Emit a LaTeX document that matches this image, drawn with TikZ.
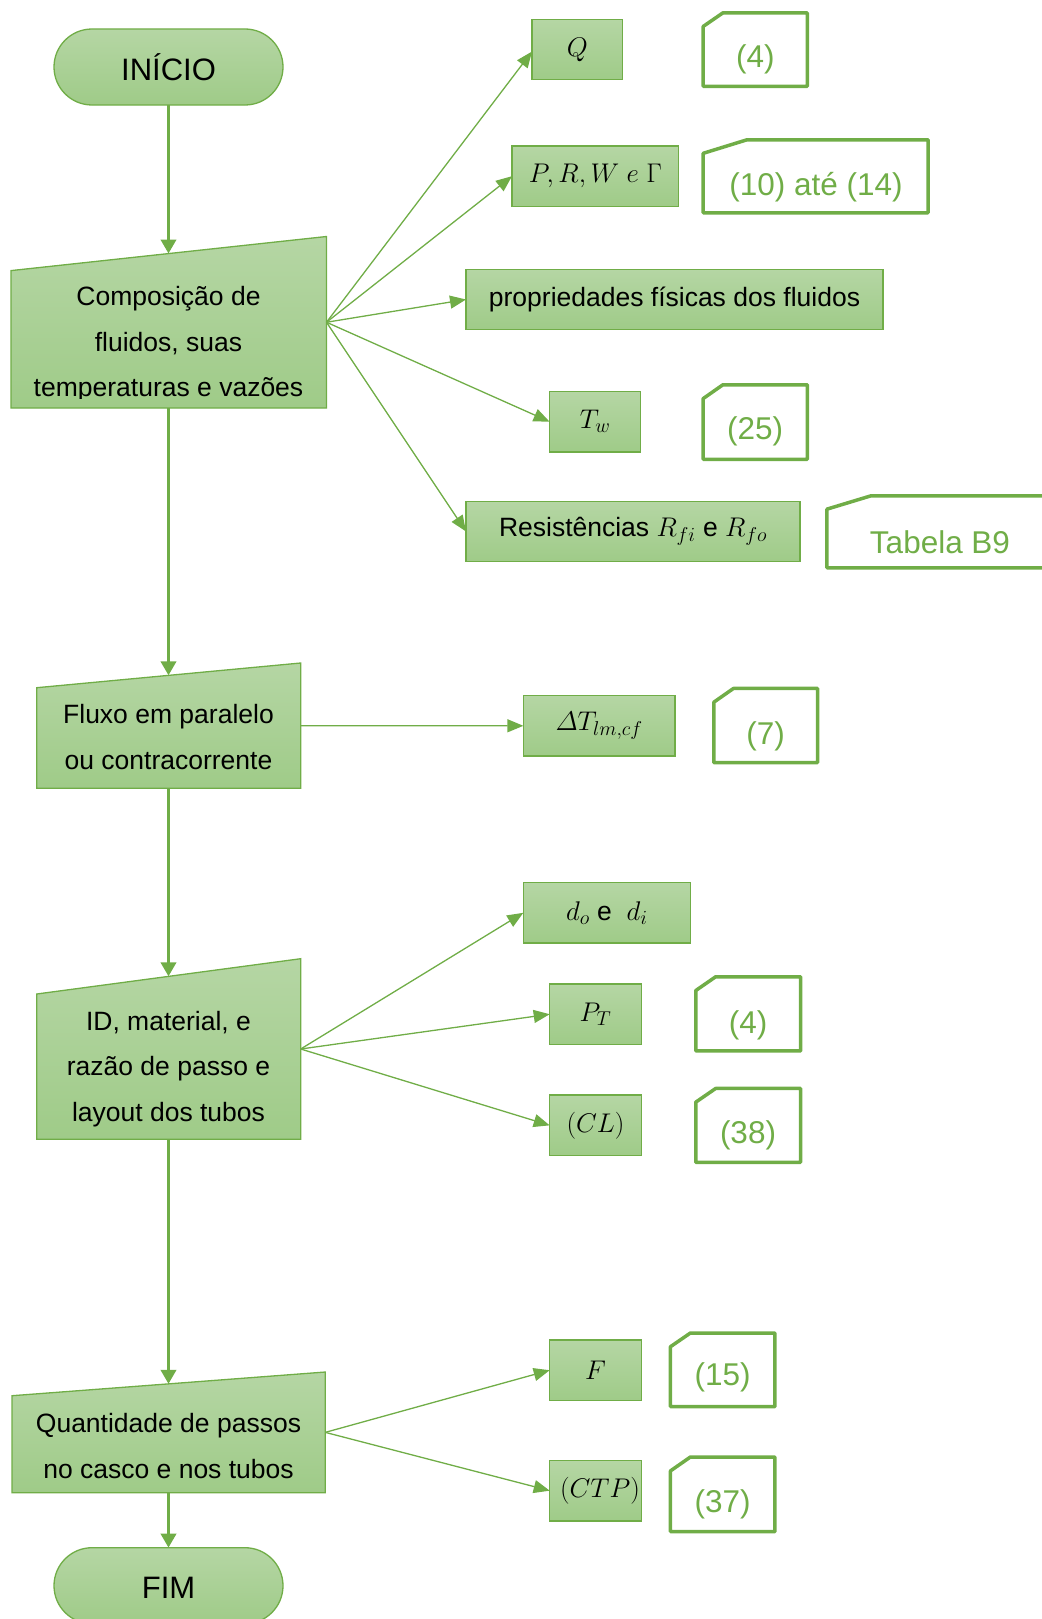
\RequirePackage{fix-cm}
\documentclass[tikz,border=0pt]{standalone}
\usepackage{amsmath}
\usepackage[no-math]{fontspec}
\setmainfont{Liberation Sans}
\DeclareMathSizes{26.5}{27}{20}{15}
\usetikzlibrary{arrows.meta}
\definecolor{ogreen}{HTML}{70AD47}
\definecolor{gtop}{HTML}{B5D6A4}
\definecolor{gbot}{HTML}{9FCB88}
\tikzset{
  shadefill/.style={top color=gtop, bottom color=gbot},
  box/.style={shadefill, draw=ogreen, line width=1.3pt, rectangle, inner sep=0pt, outer sep=0pt, minimum height=60.5pt, font=\fontsize{26.5}{32}\selectfont},
  term/.style={shadefill, draw=ogreen, line width=1.3pt, rounded corners=38pt, minimum width=229pt, minimum height=76pt, inner sep=0pt, outer sep=0pt, font=\fontsize{31}{36}\selectfont},
  shapeline/.style={draw=ogreen, line width=1.3pt, shadefill},
  bodytext/.style={font=\fontsize{26.5}{45.5}\selectfont, align=center, inner sep=0pt},
  mainarrow/.style={draw=ogreen, line width=3.5pt, -{Triangle[length=14pt,width=15pt]}},
  thinarrow/.style={draw=ogreen, line width=1.3pt, -{Triangle[length=16pt,width=13pt]}},
  cardline/.style={draw=ogreen, line width=3.5pt, line join=round},
  cardtext/.style={text=ogreen, font=\fontsize{31.5}{36}\selectfont, inner sep=0pt},
}
\newcommand{\cardshape}[8]{%
  \pgfmathsetmacro{\cardcw}{0.2*(#4-#2)}%
  \pgfmathsetmacro{\cardch}{0.2*(#5-#3)}%
  \draw[cardline] (#2+1.75,#5-1.75) -- (#2+1.75,#3+\cardch) -- (#2+\cardcw,#3+1.75) -- (#4-1.75,#3+1.75) -- (#4-1.75,#5-1.75) -- cycle;
  \node[cardtext] (#1) at (#6,#7) {#8};
}
\begin{document}
\begin{tikzpicture}[x=1pt,y=-1pt]
\useasboundingbox (0,0) rectangle (1041,1619);

% terminals
\node[term, text height=27pt, text depth=0pt] (inicio) at (168.5,67) {INÍCIO};
\node[term, text height=25pt, text depth=0pt] (fim) at (168.5,1585.7) {FIM};

% manual input shapes
\path[shapeline] (11,270.6) -- (326.5,236.5) -- (326.5,408) -- (11,408) -- cycle;
\coordinate (comp-top) at (168.5,253.6);
\coordinate (comp-right) at (326.5,322.25);
\coordinate (comp-bot) at (168.5,408);
\begin{scope}
\clip (11,236) rectangle (327,398.6);
\node[bodytext] (comp) at (168.5,341.9) {\strut Composição de\\\strut fluidos, suas\\\strut temperaturas e vazões};
\end{scope}

\path[shapeline] (36.7,687.7) -- (300.7,663) -- (300.7,788.3) -- (36.7,788.3) -- cycle;
\coordinate (flux-top) at (168.5,675.4);
\coordinate (flux-right) at (300.7,725.65);
\coordinate (flux-bot) at (168.5,788.3);
\node[bodytext] (flux) at (168.5,737.6) {\strut Fluxo em paralelo\\\strut ou contracorrente};

\path[shapeline] (36.7,994) -- (300.7,958.7) -- (300.7,1139.3) -- (36.7,1139.3) -- cycle;
\coordinate (id-top) at (168.5,976.4);
\coordinate (id-right) at (300.7,1049);
\coordinate (id-bot) at (168.5,1139.3);
\node[bodytext] (idtext) at (168.5,1066.8) {\strut ID, material, e\\\strut razão de passo e\\\strut layout dos tubos};

\path[shapeline] (12,1395.7) -- (325.3,1372) -- (325.3,1492.7) -- (12,1492.7) -- cycle;
\coordinate (quant-top) at (168.5,1383.9);
\coordinate (quant-right) at (325.3,1432.35);
\coordinate (quant-bot) at (168.5,1492.7);
\node[bodytext] (quant) at (168.5,1446.2) {\strut Quantidade de passos\\\strut no casco e nos tubos};

% boxes
\node[box, minimum width=90.8pt] (Q) at (577.4,49.55) {$Q$};
\node[box, minimum width=166.8pt] (prw) at (595.4,176.2) {$P,R,W\ e\ \Gamma$};
\node[box, minimum width=417pt] (prop) at (674.5,299.5) {propriedades físicas dos fluidos};
\node[box, minimum width=91.2pt] (tw) at (595.2,421.7) {$T_w$};
\node[box, minimum width=334pt] (res) at (633,531.5) {Resistências $R_{fi}$ e $R_{fo}$};
\node[box, minimum width=151.7pt] (dt) at (599.2,725.8) {$\varDelta T_{lm,cf}$};
\node[box, minimum width=167pt] (dodi) at (606.8,912.8) {$d_o$ e\ \ $d_i$};
\node[box, minimum width=91.6pt] (pt) at (595.5,1014.2) {$P_T$};
\node[box, minimum width=91.6pt] (cl) at (595.5,1125.35) {$(CL)$};
\node[box, minimum width=91.6pt] (f) at (595.5,1370.2) {$F$};
\node[box, minimum width=91.6pt] (ctp) at (595.5,1490.65) {\hspace*{9pt}$(CTP)$};

% cards
\cardshape{c1}{701.4}{11.1}{809}{88}{755.3}{59.2}{(4)}
\cardshape{c2}{701.4}{138}{929.8}{214.6}{816}{186.8}{(10) até (14)}
\cardshape{c3}{701.4}{383}{809}{461}{755.2}{431}{(25)}
\cardshape{c4}{825.2}{494}{1055}{569.7}{940}{542}{Tabela B9}
\cardshape{c5}{712}{686.7}{819.3}{764.3}{765.7}{736}{(7)}
\cardshape{c6}{694}{975}{802.3}{1052.7}{748}{1025}{(4)}
\cardshape{c7}{694}{1086.7}{802.3}{1164}{748}{1135}{(38)}
\cardshape{c8}{668.7}{1331.3}{776.7}{1408.3}{722.7}{1377.3}{(15)}
\cardshape{c9}{668.7}{1455.3}{776.7}{1533.3}{722.7}{1504}{(37)}

% main connectors
\draw[mainarrow] (inicio.south) -- (comp-top);
\draw[mainarrow] (comp-bot) -- (flux-top);
\draw[mainarrow] (flux-bot) -- (id-top);
\draw[mainarrow] (id-bot) -- (quant-top);
\draw[mainarrow] (quant-bot) -- (fim.north);

% fan connectors
\draw[thinarrow] (comp-right) -- ([yshift=-2pt]Q.west);
\draw[thinarrow] (comp-right) -- (prw.west);
\draw[thinarrow] (comp-right) -- (prop.west);
\draw[thinarrow] (comp-right) -- (tw.west);
\draw[thinarrow] (comp-right) -- (res.west);
\draw[thinarrow] (flux-right) -- (dt.west);
\draw[thinarrow] (id-right) -- (dodi.west);
\draw[thinarrow] (id-right) -- (pt.west);
\draw[thinarrow] (id-right) -- (cl.west);
\draw[thinarrow] (quant-right) -- (f.west);
\draw[thinarrow] (quant-right) -- (ctp.west);
\end{tikzpicture}
\end{document}
